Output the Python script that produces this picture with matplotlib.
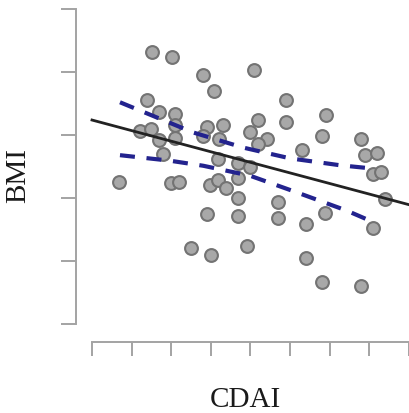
import numpy as np
import matplotlib
matplotlib.use("Agg")
import matplotlib.pyplot as plt

# scatter values (tick labels are not shown)
cdai = [75.3, 100.6, 139.7, 154.3, 204.8, 70.0, 84.9, 104.7, 104.7, 60.6,
        74.8, 84.5, 104.7, 144.7, 164.9, 140.1, 159.9, 90.0, 209.8, 244.8,
        244.8, 294.9, 199.4, 220.4, 209.8, 289.8, 264.6, 339.4, 344.5, 359.2,
        354.2, 365.3, 159.6, 184.6, 199.4, 34.4, 99.3, 109.8, 149.5, 159.6,
        169.5, 184.6, 184.6, 234.7, 369.3, 144.7, 184.6, 234.7, 294.4, 269.8,
        354.2, 124.9, 149.8, 195.2, 269.6, 289.8, 339.4]
bmi = [36.6, 36.2, 34.8, 33.5, 35.2, 32.8, 31.8, 31.7, 30.8, 30.3,
       30.5, 29.6, 29.8, 30.6, 30.8, 29.9, 29.7, 28.5, 31.2, 31.0,
       32.8, 31.6, 30.2, 29.7, 29.3, 29.9, 28.8, 29.7, 28.4, 28.6,
       26.9, 27.1, 28.1, 27.8, 27.5, 26.3, 26.2, 26.3, 26.0, 26.4,
       25.8, 26.6, 25.0, 24.7, 24.9, 23.7, 23.6, 23.4, 23.8, 22.9,
       22.6, 21.0, 20.5, 21.2, 20.2, 18.3, 18.0]

# fitted line end points
fit_x = [0, 400]
fit_y = [31.19, 24.47]

band_up_x = [35.3, 127.8, 190.9, 249.8, 312.9, 350.8]
band_up_y = [32.6, 30.2, 29.0, 28.15, 27.6, 27.36]
band_lo_x = [35.3, 98.4, 140.4, 199.4, 258.3, 321.4, 350.8]
band_lo_y = [28.4, 27.96, 27.56, 26.77, 25.45, 24.0, 23.2]

xticks = np.arange(0, 401, 50)
yticks = np.arange(15, 41, 5)

fig = plt.figure(figsize=(4.1, 4.14), dpi=100)
ax = fig.add_axes([76/410, 71/414, 336/410, 338/414])

# points first, lines drawn over them
ax.scatter(cdai, bmi, s=85, facecolor="#a8a8a8", edgecolor="#737373",
           linewidth=1.5, zorder=2, clip_on=False)
ax.plot(fit_x, fit_y, color="#222222", lw=2.0, zorder=3)
navy = "#23238e"
ax.plot(band_up_x, band_up_y, color=navy, lw=3, dashes=(3.6, 2.8), zorder=4)
ax.plot(band_lo_x, band_lo_y, color=navy, lw=3, dashes=(3.6, 2.8), zorder=4)

ax.set_xlim(-20.2, 403.8)
ax.set_ylim(13.57, 40.4)

axis_grey = "#a3a3a3"
for side in ["top", "right"]:
    ax.spines[side].set_visible(False)
ax.spines["left"].set_bounds(15, 40)
ax.spines["bottom"].set_bounds(0, 400)
for side in ["left", "bottom"]:
    ax.spines[side].set_color(axis_grey)
    ax.spines[side].set_linewidth(1.4)

ax.set_xticks(xticks)
ax.set_yticks(yticks)
ax.tick_params(axis="both", colors=axis_grey, width=1.4, labelleft=False, labelbottom=False)
ax.tick_params(axis="y", length=11)
ax.tick_params(axis="x", length=10)

fig.text(18/410, 1 - 176/414, "BMI", rotation=90, ha="center", va="center",
         family="Liberation Serif", fontsize=21, color="#1a1a1a")
fig.text(245/410, 1 - 400/414, "CDAI", ha="center", va="center",
         family="Liberation Serif", fontsize=21, color="#1a1a1a")

fig.savefig("out.png", dpi=100)
